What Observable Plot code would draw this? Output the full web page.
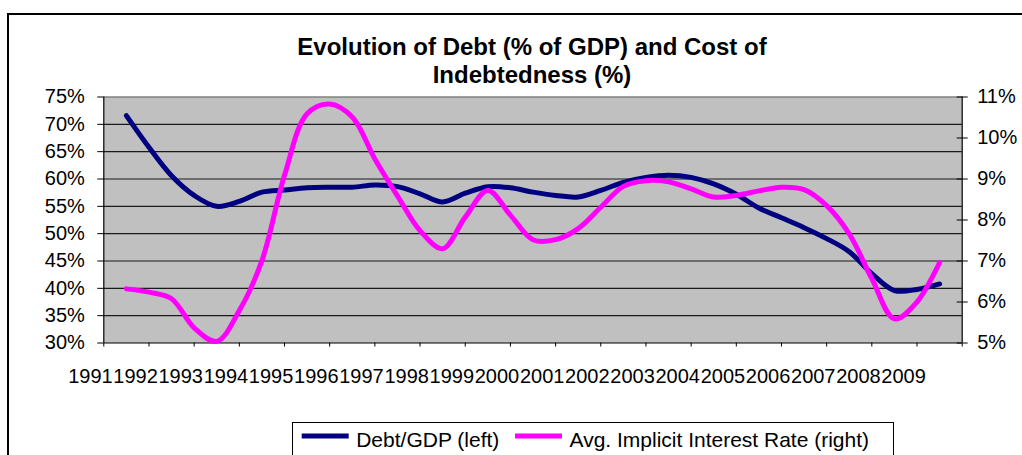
<!DOCTYPE html>
<html>
<head>
<meta charset="utf-8">
<script src="https://cdn.jsdelivr.net/npm/d3@7"></script>
<script src="https://cdn.jsdelivr.net/npm/@observablehq/plot@0.6"></script>
<style>
  html, body { margin: 0; padding: 0; background: #fff; }
  #page { position: relative; width: 1022px; height: 455px; overflow: hidden; background: #fff;
          font-family: "Liberation Sans", Arial, sans-serif; }
  #border { position: absolute; left: 7px; top: 13px; width: 1100px; height: 600px; border: 2px solid #000; }
  #chart { position: absolute; left: 0; top: 0; }
</style>
</head>
<body>
<div id="page"><div id="border"></div><div id="chart"></div></div>
<script>
// Category labels (one per year)
const years = ["1991", "1992", "1993", "1994", "1995", "1996", "1997", "1998", "1999", "2000",
               "2001", "2002", "2003", "2004", "2005", "2006", "2007", "2008", "2009"];

// Half-year observation positions, in category units
const period = [0.5, 1, 1.5, 2, 2.5, 3, 3.5, 4, 4.5, 5, 5.5, 6, 6.5, 7, 7.5, 8, 8.5, 9, 9.5,
                10, 10.5, 11, 11.5, 12, 12.5, 13, 13.5, 14, 14.5, 15, 15.5, 16, 16.5, 17, 17.5, 18, 18.5];

// Debt as % of GDP (left axis)
const debtGDP = [71.6, 65.8, 60.6, 57.0, 55.0, 55.9, 57.6, 58.0, 58.4, 58.5, 58.5, 58.9, 58.6,
                 57.3, 55.8, 57.4, 58.6, 58.4, 57.6, 57.0, 56.7, 57.9, 59.4, 60.3, 60.7, 60.3,
                 59.1, 57.2, 54.7, 52.9, 51.1, 49.1, 46.7, 42.7, 39.6, 39.8, 40.8];

// Average implicit interest rate, % (right axis)
const interestRate = [6.32, 6.24, 6.08, 5.37, 5.04, 5.79, 7.01, 9.09, 10.59, 10.83, 10.51, 9.49, 8.59,
                      7.74, 7.30, 8.07, 8.72, 8.12, 7.52, 7.52, 7.79, 8.31, 8.82, 8.96, 8.93, 8.76,
                      8.56, 8.60, 8.71, 8.80, 8.74, 8.35, 7.66, 6.57, 5.59, 6.00, 6.97];

const debtTicks = [30, 35, 40, 45, 50, 55, 60, 65, 70, 75];
const rateTicks = [5, 6, 7, 8, 9, 10, 11];

const titleLines = ["Evolution of Debt (% of GDP) and Cost of", "Indebtedness (%)"];
const seriesNames = ["Debt/GDP (left)", "Avg. Implicit Interest Rate (right)"];

const navy = "#000080";
const magenta = "#FF00FF";
const font = '"Liberation Sans", Arial, sans-serif';

// The right axis shares the plot's y scale: rates are mapped onto the left range
const rateToDebt = d3.scaleLinear([rateTicks[0], rateTicks[rateTicks.length - 1]],
                                  [debtTicks[0], debtTicks[debtTicks.length - 1]]);

const rows = period.map((t, i) => ({t, debt: debtGDP[i], rate: rateToDebt(interestRate[i])}));
const boundaries = d3.range(0, years.length + 1);
const centers = years.map((_, i) => i + 0.5);
const lo = debtTicks[0], hi = debtTicks[debtTicks.length - 1];

const chart = Plot.plot({
  width: 1022,
  height: 400,
  marginLeft: 103.3,
  marginRight: 60.3,
  marginTop: 96.5,
  marginBottom: 57.5,
  x: {domain: [0, years.length], label: null},
  y: {domain: [lo, hi], label: null},
  style: {fontFamily: font, fontSize: "20px", color: "#000", background: "none", overflow: "visible"},
  marks: [
    Plot.frame({fill: "#c0c0c0", stroke: "none"}),
    Plot.ruleY(debtTicks.filter(d => d > lo && d < hi), {stroke: "#1a1a1a", strokeWidth: 1.2}),
    Plot.ruleY([hi], {stroke: "#808080", strokeWidth: 1.5}),
    Plot.ruleX([0, years.length], {stroke: "#000", strokeWidth: 1.2}),
    Plot.ruleY([lo], {stroke: "#000", strokeWidth: 1.2}),
    Plot.line(rows, {x: "t", y: "debt", stroke: navy, strokeWidth: 5, curve: "catmull-rom"}),
    Plot.line(rows, {x: "t", y: "rate", stroke: magenta, strokeWidth: 5, curve: "catmull-rom"}),
    Plot.axisY({anchor: "left", ticks: debtTicks, tickSize: 6, tickPadding: 13,
                tickFormat: d => d + "%", label: null}),
    Plot.axisY({anchor: "right", ticks: rateTicks.map(rateToDebt), tickSize: 11, dx: -6,
                tickFormat: () => "", label: null}),
    Plot.axisY({anchor: "right", ticks: rateTicks.map(rateToDebt), tickSize: 5, tickPadding: 10,
                stroke: "none", tickFormat: d => Math.round(rateToDebt.invert(d)) + "%", label: null}),
    Plot.axisX({ticks: boundaries, tickSize: 4, tickFormat: () => "", label: null}),
    Plot.axisX({ticks: centers, tickSize: 0, tickPadding: 26, dx: -36,
                tickFormat: d => years[Math.floor(d)], label: null})
  ]
});
document.getElementById("chart").appendChild(chart);

// Title and legend
const overlay = d3.select("#page").append("svg")
  .attr("width", 1022).attr("height", 455)
  .style("position", "absolute").style("left", 0).style("top", 0)
  .attr("font-family", font);

overlay.selectAll("text.title").data(titleLines).join("text")
  .attr("class", "title")
  .attr("x", 532).attr("y", (d, i) => 55 + i * 28)
  .attr("text-anchor", "middle")
  .attr("font-size", 24).attr("font-weight", "bold")
  .text(d => d);

const legend = overlay.append("g");
legend.append("rect")
  .attr("x", 292.5).attr("y", 422.5).attr("width", 601).attr("height", 60)
  .attr("fill", "#fff").attr("stroke", "#000").attr("stroke-width", 1);
const items = [{name: seriesNames[0], color: navy, x: 301.7},
               {name: seriesNames[1], color: magenta, x: 515}];
items.forEach(it => {
  legend.append("line")
    .attr("x1", it.x).attr("x2", it.x + 47).attr("y1", 436).attr("y2", 436)
    .attr("stroke", it.color).attr("stroke-width", 5);
  legend.append("text")
    .attr("x", it.x + 54.5).attr("y", 446.5)
    .attr("font-size", 21)
    .text(it.name);
});
</script>
</body>
</html>
